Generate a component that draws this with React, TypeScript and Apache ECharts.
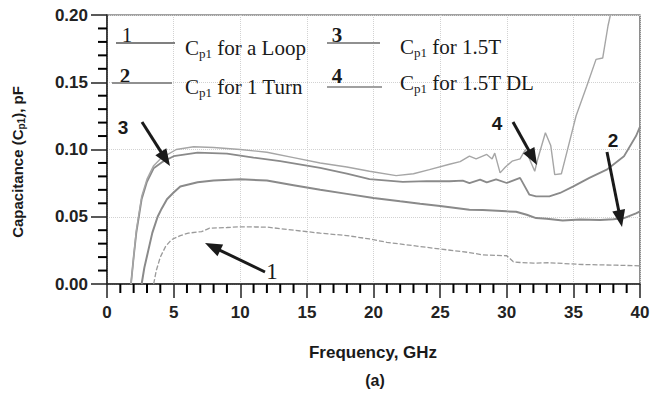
import React, { useEffect, useRef } from "react";
import * as echarts from "echarts";

const xTicks = [0, 5, 10, 15, 20, 25, 30, 35, 40];
const yTicks = [0, 0.05, 0.1, 0.15, 0.2];
const xMinorTicks = [1, 2, 3, 4, 6, 7, 8, 9, 11, 12, 13, 14, 16, 17, 18, 19, 21, 22, 23, 24, 26, 27, 28, 29, 31, 32, 33, 34, 36, 37, 38, 39];
const yMinorTicks = [0.01, 0.02, 0.03, 0.04, 0.06, 0.07, 0.08, 0.09, 0.11, 0.12, 0.13, 0.14, 0.16, 0.17, 0.18, 0.19];

const seriesNames = ["Cp1 for a Loop", "Cp1 for 1 Turn", "Cp1 for 1.5T", "Cp1 for 1.5T DL"];

const loopData: [number, number][] = [
  [3.5, 0], [3.7, 0.01], [4.0, 0.02], [4.4, 0.028], [4.85, 0.033], [5.5, 0.036], [6.1, 0.0378],
  [7.1, 0.039], [7.7, 0.0415], [9, 0.042], [10, 0.0425], [12, 0.0423], [14, 0.04], [16, 0.0378],
  [18, 0.036], [19.7, 0.0335], [21, 0.031], [23.5, 0.0279], [25, 0.026], [27.2, 0.0234],
  [28.2, 0.0216], [30, 0.021], [30.5, 0.0165], [31, 0.016], [32, 0.0155], [33.2, 0.0158],
  [35.7, 0.0145], [38.2, 0.014], [40, 0.0135],
];

const turnData: [number, number][] = [
  [2.6, 0], [2.8, 0.012], [3.1, 0.025], [3.4, 0.038], [3.8, 0.05], [4.1, 0.056], [4.5, 0.063],
  [5, 0.068], [5.5, 0.0725], [6.8, 0.0757], [8, 0.077], [10, 0.0778], [12, 0.077], [14, 0.0735],
  [16, 0.07], [18, 0.067], [20, 0.064], [22, 0.0615], [23.5, 0.0597], [25, 0.058], [27.2, 0.0552],
  [28.2, 0.055], [30, 0.054], [30.7, 0.0537], [31.5, 0.0515], [32.2, 0.049], [33, 0.0485],
  [34.2, 0.0473], [35.5, 0.048], [37, 0.0475], [38, 0.0482], [38.8, 0.049], [39.7, 0.0525], [40, 0.054],
];

const t15Data: [number, number][] = [
  [1.8, 0], [2.0, 0.02], [2.2, 0.038], [2.6, 0.063], [3.0, 0.076], [3.5, 0.086], [4.2, 0.091],
  [5, 0.095], [6.8, 0.0977], [9, 0.097], [11, 0.094], [13, 0.0913], [16, 0.0863], [18, 0.082],
  [19.7, 0.078], [22.2, 0.0759], [24, 0.0765], [25.7, 0.0764], [26.7, 0.0769], [27.2, 0.075],
  [28, 0.0776], [28.5, 0.0755], [29.2, 0.0778], [30, 0.0751], [31, 0.0789], [31.7, 0.0664],
  [32.2, 0.0652], [33.2, 0.0652], [34, 0.0677], [35, 0.0726], [36.2, 0.0789], [37.5, 0.085],
  [38.8, 0.095], [39.7, 0.11], [40, 0.117],
];

const t15dlData: [number, number][] = [
  [1.8, 0], [2.0, 0.02], [2.2, 0.04], [2.6, 0.065], [3.0, 0.078], [3.5, 0.088], [4.0, 0.093],
  [4.5, 0.096], [5.2, 0.1], [6.5, 0.102], [8, 0.1015], [10, 0.1], [12, 0.098], [14, 0.094],
  [16, 0.09], [18, 0.087], [19.7, 0.0838], [21.7, 0.0806], [23, 0.082], [24.2, 0.085],
  [25.7, 0.089], [26.5, 0.091], [27.2, 0.095], [27.7, 0.093], [28.5, 0.0963], [28.9, 0.093],
  [29.1, 0.0973], [29.5, 0.0826], [29.9, 0.087], [30.4, 0.0913], [31, 0.093], [31.4, 0.1],
  [32.1, 0.0838], [32.3, 0.092], [32.9, 0.1125], [33.3, 0.103], [33.6, 0.0813], [34.1, 0.082],
  [34.5, 0.0975], [35.2, 0.1249], [36, 0.147], [36.7, 0.167], [37.2, 0.168], [37.6, 0.192], [38.0, 0.21],
];

const SERIF = "Liberation Serif";
const SANS = "Liberation Sans";

function arrow(x1: number, y1: number, x2: number, y2: number) {
  const dx = x2 - x1, dy = y2 - y1;
  const len = Math.sqrt(dx * dx + dy * dy);
  const ux = dx / len, uy = dy / len;
  const hl = 17, hw = 6.5;
  const bx = x2 - ux * hl, by = y2 - uy * hl;
  const px = -uy, py = ux;
  return [
    { type: "line", z: 100, shape: { x1, y1, x2: bx + ux * 2, y2: by + uy * 2 }, style: { stroke: "#1a1a1a", lineWidth: 3 } },
    {
      type: "polygon", z: 100,
      shape: { points: [[x2, y2], [bx + px * hw, by + py * hw], [bx - px * hw, by - py * hw]] },
      style: { fill: "#1a1a1a" },
    },
  ];
}

function legendText(x: number, y: number, rest: string) {
  return {
    type: "text", z: 100, x, y,
    style: {
      text: "{c|C}{s|p1}{c|" + rest + "}",
      verticalAlign: "middle",
      rich: {
        c: { fontSize: 21, fontFamily: SERIF, fill: "#1a1a1a", lineHeight: 24 },
        s: { fontSize: 13, fontFamily: SERIF, fill: "#1a1a1a", lineHeight: 13, verticalAlign: "bottom" },
      },
    },
  };
}

function legendLine(x1: number, x2: number, y: number, color: string) {
  return { type: "line", z: 100, shape: { x1, y1: y, x2, y2: y }, style: { stroke: color, lineWidth: 2 } };
}

function numLabel(x: number, y: number, t: string, family: string, size: number, weight: string) {
  return {
    type: "text", z: 100, x, y,
    style: { text: t, fontFamily: family, fontSize: size, fontWeight: weight, fill: "#1a1a1a", align: "center", verticalAlign: "middle" },
  };
}

export default function App() {
  const ref = useRef<HTMLDivElement>(null);
  useEffect(() => {
    if (!ref.current) return;
    const chart = echarts.init(ref.current, undefined, { renderer: "svg" });
    const axisLabel = { fontSize: 17, fontWeight: "bold", fontFamily: SANS, color: "#222" };
    const tickStyle = { color: "#222", width: 1.5 };
    chart.setOption({
      animation: false,
      backgroundColor: "#fff",
      grid: { left: 107, right: 13, top: 15, bottom: 112, show: true, borderColor: "#444", borderWidth: 1.2, backgroundColor: "transparent" },
      xAxis: {
        type: "value", min: xTicks[0], max: xTicks[xTicks.length - 1], interval: 5,
        axisLine: { show: true, onZero: false, lineStyle: tickStyle },
        axisTick: { show: true, inside: false, length: 14, lineStyle: tickStyle },
        splitLine: { show: true, lineStyle: { type: "dotted", color: "#d2d2d2", width: 1 } },
        axisLabel: { ...axisLabel, margin: 20 },
      },
      yAxis: {
        type: "value", min: yTicks[0], max: yTicks[yTicks.length - 1], interval: 0.05,
        axisLine: { show: true, onZero: false, lineStyle: tickStyle },
        axisTick: { show: true, inside: false, length: 16, lineStyle: tickStyle },
        splitLine: { show: true, lineStyle: { type: "dotted", color: "#d2d2d2", width: 1 } },
        axisLabel: { ...axisLabel, margin: 19, formatter: (v: number) => v.toFixed(2) },
      },
      series: [
        { name: seriesNames[0], type: "line", data: loopData, showSymbol: false, clip: true, lineStyle: { color: "#9a9a9a", width: 1.3, type: [5, 2] } },
        { name: seriesNames[1], type: "line", data: turnData, showSymbol: false, clip: true, lineStyle: { color: "#8a8a8a", width: 2 } },
        { name: seriesNames[2], type: "line", data: t15Data, showSymbol: false, clip: true, lineStyle: { color: "#8a8a8a", width: 1.8 } },
        { name: seriesNames[3], type: "line", data: t15dlData, showSymbol: false, clip: true, lineStyle: { color: "#a6a6a6", width: 1.4 } },
      ],
    });

    const minorTicks: any[] = [];
    xMinorTicks.forEach((v) => {
      const p = chart.convertToPixel({ gridIndex: 0 }, [v, 0]) as number[];
      minorTicks.push({ type: "rect", z: 90, shape: { x: p[0] - 1, y: p[1], width: 2, height: 9 }, style: { fill: "#000000" } });
    });
    yMinorTicks.forEach((v) => {
      const p = chart.convertToPixel({ gridIndex: 0 }, [0, v]) as number[];
      minorTicks.push({ type: "rect", z: 90, shape: { x: p[0] - 9, y: p[1] - 1, width: 9, height: 2 }, style: { fill: "#000000" } });
    });

    chart.setOption({
      graphic: [
        ...minorTicks,
        // legend
        numLabel(127, 35, "1", SERIF, 21, "normal"),
        legendLine(116, 175, 43, "#808080"),
        legendText(185, 48, " for a Loop"),
        numLabel(125, 76, "2", SERIF, 21, "bold"),
        legendLine(112, 172, 83, "#909090"),
        legendText(185, 87, " for 1 Turn"),
        numLabel(337, 35, "3", SERIF, 21, "bold"),
        legendLine(327, 380, 43, "#909090"),
        legendText(400, 47, " for 1.5T"),
        numLabel(337, 76, "4", SERIF, 21, "bold"),
        legendLine(327, 382, 87, "#a0a0a0"),
        legendText(400, 83, " for 1.5T DL"),
        // arrows
        ...arrow(142, 122, 170, 166),
        numLabel(123, 127, "3", SANS, 19, "bold"),
        ...arrow(265, 272, 205, 243),
        numLabel(272, 271, "1", SERIF, 23, "normal"),
        ...arrow(513, 122, 537, 165),
        numLabel(497, 123, "4", SANS, 19, "bold"),
        ...arrow(607, 152, 622, 227),
        numLabel(613, 140, "2", SANS, 19, "bold"),
        // axis titles
        {
          type: "text", z: 100, x: 17, y: 162, rotation: Math.PI / 2,
          style: {
            text: "{a|Capacitance (C}{s|p1}{a|), pF}",
            align: "center", verticalAlign: "middle",
            rich: {
              a: { fontSize: 15, fontWeight: "bold", fontFamily: SANS, fill: "#1a1a1a", lineHeight: 18 },
              s: { fontSize: 10, fontWeight: "bold", fontFamily: SANS, fill: "#1a1a1a", lineHeight: 10, verticalAlign: "bottom" },
            },
          },
        },
        {
          type: "text", z: 100, x: 373, y: 352,
          style: { text: "Frequency, GHz", fontSize: 17, fontWeight: "bold", fontFamily: SANS, fill: "#1a1a1a", align: "center", verticalAlign: "middle" },
        },
        {
          type: "text", z: 100, x: 375, y: 380,
          style: { text: "(a)", fontSize: 16, fontWeight: "bold", fontFamily: SANS, fill: "#1a1a1a", align: "center", verticalAlign: "middle" },
        },
      ],
    });
    return () => chart.dispose();
  }, []);
  return <div ref={ref} style={{ width: 653, height: 396, position: "fixed", left: 0, top: 0 }} />;
}
